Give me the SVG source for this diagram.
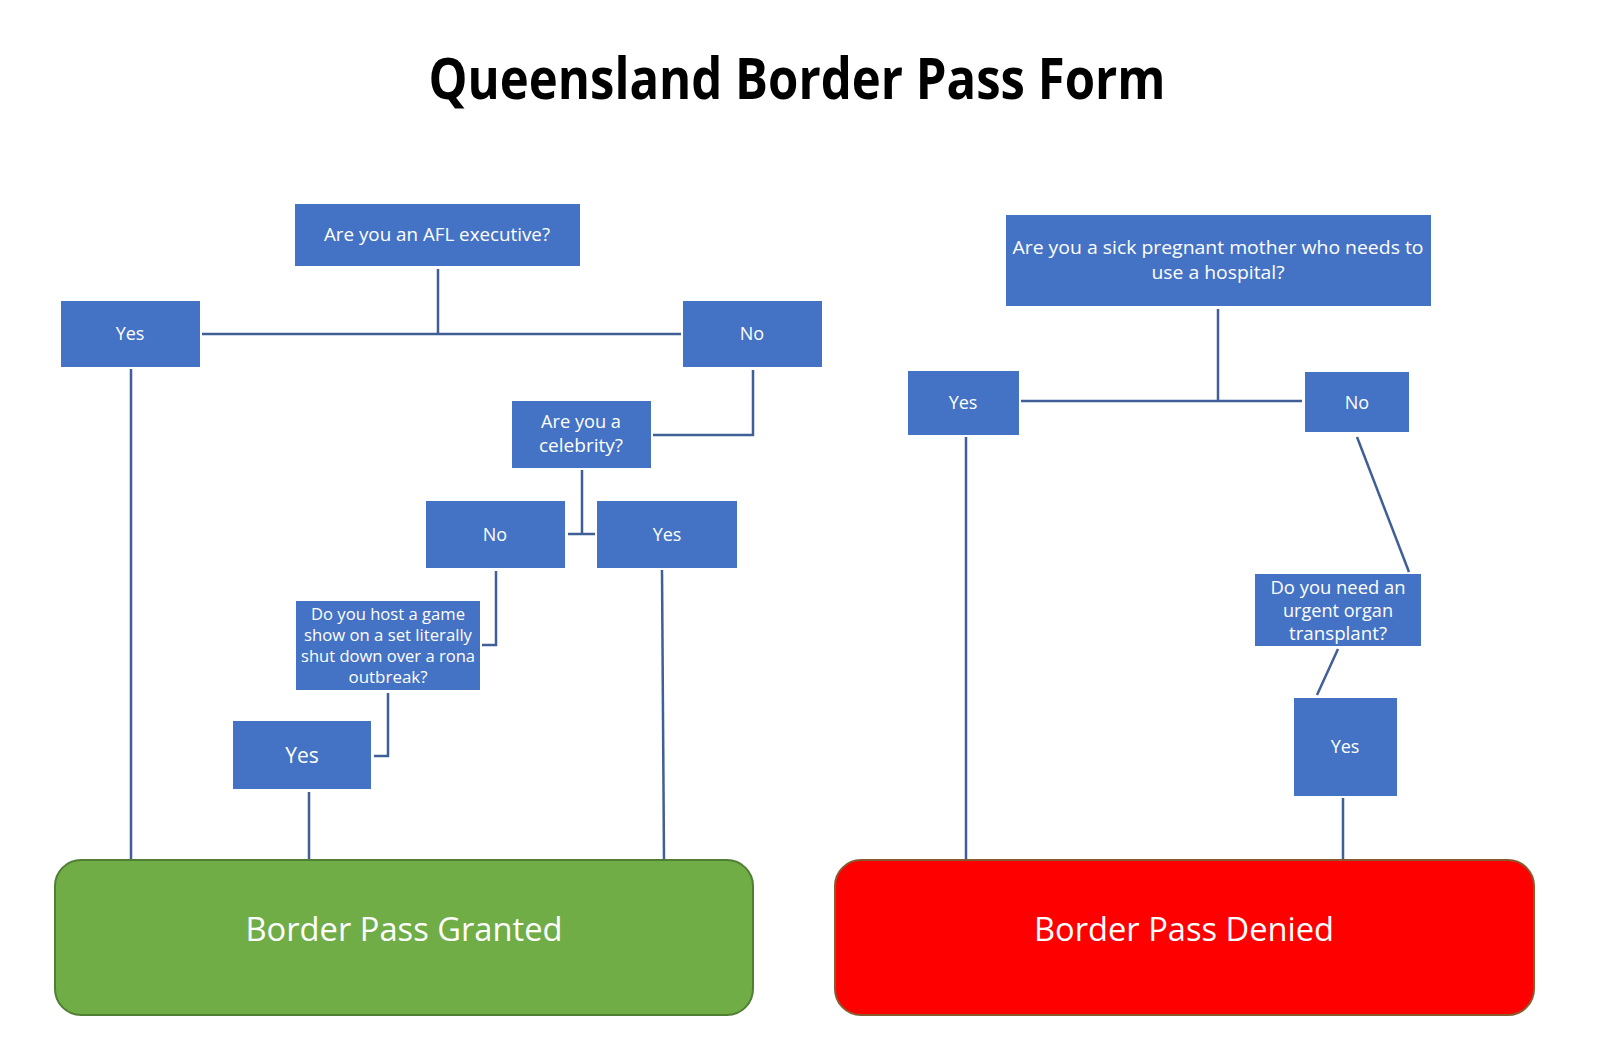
<svg xmlns="http://www.w3.org/2000/svg" width="1600" height="1046" viewBox="0 0 1600 1046">
<style>
.box{fill:#4472C4;}
.t{font-family:"Open Sans","Noto Sans","Liberation Sans",sans-serif;fill:#ffffff;text-anchor:middle;dominant-baseline:central;}
.s{font-size:17px;}
.m{font-size:18px;}
.c{stroke:#3F5F96;stroke-width:2.5;fill:none;}
</style>
<rect width="1600" height="1046" fill="#ffffff"/>
<text x="797" y="99" font-family="'Open Sans','Noto Sans','Liberation Sans',sans-serif" font-weight="bold" font-size="58" text-anchor="middle" textLength="737" lengthAdjust="spacingAndGlyphs" fill="#000000">Queensland Border Pass Form</text>

<g id="connectors">
  <polyline class="c" points="438,269 438,334"/>
  <polyline class="c" points="202,334 681,334"/>
  <polyline class="c" points="753,370 753,435 653,435"/>
  <polyline class="c" points="582,470 582,534"/>
  <polyline class="c" points="568,534 595,534"/>
  <polyline class="c" points="496,571 496,645 482,645"/>
  <polyline class="c" points="388,693 388,756 374,756"/>
  <polyline class="c" points="309,792 309,860"/>
  <polyline class="c" points="131,369 131,860"/>
  <polyline class="c" points="662,570 664,860"/>
  <polyline class="c" points="1218,309 1218,401"/>
  <polyline class="c" points="1021,401 1302,401"/>
  <polyline class="c" points="966,437 966,860"/>
  <polyline class="c" points="1357,437 1409,572"/>
  <polyline class="c" points="1338,649 1317,695"/>
  <polyline class="c" points="1343,798 1343,860"/>
</g>

<g id="q-afl"><rect class="box" x="295" y="204" width="285" height="62"/><text class="t m" x="437" y="234" textLength="226" lengthAdjust="spacingAndGlyphs">Are you an AFL executive?</text></g>
<g id="yes1"><rect class="box" x="61" y="301" width="139" height="66"/><text class="t m" x="130" y="333">Yes</text></g>
<g id="no1"><rect class="box" x="683" y="301" width="139" height="66"/><text class="t m" x="752" y="333">No</text></g>
<g id="q-celebrity"><rect class="box" x="512" y="401" width="139" height="67"/><text class="t m" x="581" y="421" textLength="80" lengthAdjust="spacingAndGlyphs">Are you a</text><text class="t m" x="581" y="445" textLength="84" lengthAdjust="spacingAndGlyphs">celebrity?</text></g>
<g id="no2"><rect class="box" x="426" y="501" width="139" height="67"/><text class="t m" x="495" y="534">No</text></g>
<g id="yes2"><rect class="box" x="597" y="501" width="140" height="67"/><text class="t m" x="667" y="534">Yes</text></g>
<g id="q-gameshow"><rect class="box" x="296" y="601" width="184" height="89"/>
<text class="t s" x="388" y="613" textLength="154" lengthAdjust="spacingAndGlyphs">Do you host a game</text>
<text class="t s" x="388" y="634" textLength="168" lengthAdjust="spacingAndGlyphs">show on a set literally</text>
<text class="t s" x="388" y="655" textLength="174" lengthAdjust="spacingAndGlyphs">shut down over a rona</text>
<text class="t s" x="388" y="676" textLength="79" lengthAdjust="spacingAndGlyphs">outbreak?</text></g>
<g id="yes3"><rect class="box" x="233" y="721" width="138" height="68"/><text class="t" font-size="21" x="302" y="755">Yes</text></g>

<g id="q-pregnant"><rect class="box" x="1006" y="215" width="425" height="91"/>
<text class="t" font-size="19" x="1218" y="247" textLength="411" lengthAdjust="spacingAndGlyphs">Are you a sick pregnant mother who needs to</text>
<text class="t" font-size="19" x="1218" y="272" textLength="133" lengthAdjust="spacingAndGlyphs">use a hospital?</text></g>
<g id="yesR"><rect class="box" x="908" y="371" width="111" height="64"/><text class="t m" x="963" y="402">Yes</text></g>
<g id="noR"><rect class="box" x="1305" y="372" width="104" height="60"/><text class="t m" x="1357" y="402">No</text></g>
<g id="q-organ"><rect class="box" x="1255" y="574" width="166" height="72"/>
<text class="t" font-size="17.5" x="1338" y="587" textLength="135" lengthAdjust="spacingAndGlyphs">Do you need an</text>
<text class="t" font-size="17.5" x="1338" y="610" textLength="110" lengthAdjust="spacingAndGlyphs">urgent organ</text>
<text class="t" font-size="17.5" x="1338" y="633" textLength="98" lengthAdjust="spacingAndGlyphs">transplant?</text></g>
<g id="yes4"><rect class="box" x="1294" y="698" width="103" height="98"/><text class="t m" x="1345" y="746">Yes</text></g>

<g id="granted"><rect x="55" y="860" width="698" height="155" rx="26" fill="#70AD47" stroke="#507E32" stroke-width="2"/>
<text class="t" font-size="33" x="404" y="928" fill="#F4F8EE" textLength="317" lengthAdjust="spacingAndGlyphs">Border Pass Granted</text></g>
<g id="denied"><rect x="835" y="860" width="699" height="155" rx="26" fill="#FF0000" stroke="#8A5A2E" stroke-width="2"/>
<text class="t" font-size="33" x="1184" y="928" textLength="300" lengthAdjust="spacingAndGlyphs">Border Pass Denied</text></g>
</svg>
